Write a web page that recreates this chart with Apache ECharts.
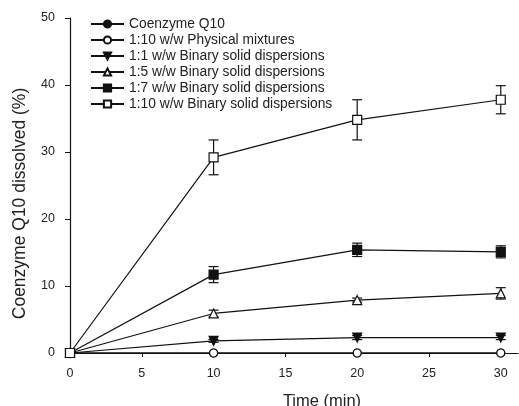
<!DOCTYPE html>
<html>
<head>
<meta charset="utf-8">
<script src="https://cdn.jsdelivr.net/npm/echarts@6/dist/echarts.min.js"></script>
<style>
  html, body { margin: 0; padding: 0; background: #fff; }
  #chart { width: 519px; height: 406px; }
</style>
</head>
<body>
<div id="chart"></div>
<script>
// time points (min)
const times = [0, 10, 20, 30];
const xTicks = [0, 5, 10, 15, 20, 25, 30];

// % dissolved
const coq10 = [0, 0, 0, 0];
const physMix = [0, 0, 0, 0];
const bsd1 = [0, 1.8, 2.3, 2.3];
const bsd5 = [0, 5.9, 7.9, 8.9];
const bsd7 = [0, 11.7, 15.4, 15.1];
const bsd10 = [0, 29.2, 34.8, 37.8];

// error bars (+/-)
const bsd1Err = [0, 0.2, 0.3, 0.3];
const bsd5Err = [0, 0.5, 0.3, 0.85];
const bsd7Err = [0, 1.2, 1.0, 0.9];
const bsd10Err = [0, 2.6, 3.0, 2.1];

const FONT = '"Liberation Sans", Arial, sans-serif';
const INK = '#111';

function lineSeries(name, values, symbol, filled, size, rotate) {
  return {
    name: name,
    type: 'line',
    data: values.map((v, i) => [times[i], v]),
    symbol: symbol,
    symbolSize: size,
    symbolRotate: rotate || 0,
    showAllSymbol: true,
    lineStyle: { color: INK, width: 1.2 },
    itemStyle: {
      color: filled ? INK : '#fff',
      borderColor: INK,
      borderWidth: 1.2
    },
    emphasis: { disabled: true },
    z: 3
  };
}

function errorSeries(values, errs) {
  return {
    type: 'custom',
    data: values.map((v, i) => [times[i], v - errs[i], v + errs[i]]),
    renderItem: function (params, api) {
      const x = api.value(0);
      const lo = api.coord([x, api.value(1)]);
      const hi = api.coord([x, api.value(2)]);
      const cap = 5;
      const style = { stroke: INK, lineWidth: 1.2 };
      return {
        type: 'group',
        children: [
          { type: 'line', shape: { x1: lo[0], y1: lo[1], x2: hi[0], y2: hi[1] }, style: style },
          { type: 'line', shape: { x1: hi[0] - cap, y1: hi[1], x2: hi[0] + cap, y2: hi[1] }, style: style },
          { type: 'line', shape: { x1: lo[0] - cap, y1: lo[1], x2: lo[0] + cap, y2: lo[1] }, style: style }
        ]
      };
    },
    silent: true,
    z: 2
  };
}

const names = [
  'Coenzyme Q10',
  '1:10 w/w Physical mixtures',
  '1:1 w/w Binary solid dispersions',
  '1:5 w/w Binary solid dispersions',
  '1:7 w/w Binary solid dispersions',
  '1:10 w/w Binary solid dispersions'
];

const option = {
  animation: false,
  backgroundColor: '#fff',
  textStyle: { fontFamily: FONT },
  grid: { left: 70, top: 18, width: 448, height: 335, outerBoundsMode: 'none', containLabel: false },
  legend: {
    data: names,
    orient: 'vertical',
    left: 85,
    top: 12,
    itemWidth: 33,
    itemHeight: 9,
    itemGap: 2,
    textStyle: { fontFamily: FONT, fontSize: 13.8, color: '#222' }
  },
  xAxis: {
    type: 'value',
    min: 0,
    max: 31.2,
    interval: 5,
    name: 'Time (min)',
    nameLocation: 'middle',
    nameGap: 40,
    nameTextStyle: { fontFamily: FONT, fontSize: 16.5, color: '#222', padding: [0, 0, 0, 56] },
    axisLine: { lineStyle: { color: INK, width: 1.2 } },
    axisTick: { length: 4, lineStyle: { color: INK }, customValues: xTicks },
    axisLabel: { customValues: xTicks, margin: 14, fontSize: 12.5, color: '#222' },
    splitLine: { show: false }
  },
  yAxis: {
    type: 'value',
    min: 0,
    max: 50,
    interval: 10,
    name: 'Coenzyme Q10 dissolved (%)',
    nameLocation: 'middle',
    nameGap: 41,
    nameTextStyle: { fontFamily: FONT, fontSize: 17.5, color: '#222', padding: [0, 36, 0, 0] },
    axisLine: { show: true, lineStyle: { color: INK, width: 1.2 } },
    axisTick: { show: true, length: 5, lineStyle: { color: INK } },
    axisLabel: { margin: 15, fontSize: 12.5, color: '#222' },
    splitLine: { show: false }
  },
  series: [
    errorSeries(bsd1, bsd1Err),
    errorSeries(bsd5, bsd5Err),
    errorSeries(bsd7, bsd7Err),
    errorSeries(bsd10, bsd10Err),
    lineSeries(names[0], coq10, 'circle', true, 8),
    lineSeries(names[1], physMix, 'circle', false, 8),
    lineSeries(names[2], bsd1, 'triangle', true, 9, 180),
    lineSeries(names[3], bsd5, 'triangle', false, 9),
    lineSeries(names[4], bsd7, 'rect', true, 9),
    lineSeries(names[5], bsd10, 'rect', false, 9)
  ]
};

const chart = echarts.init(document.getElementById('chart'));
chart.setOption(option);
</script>
</body>
</html>
